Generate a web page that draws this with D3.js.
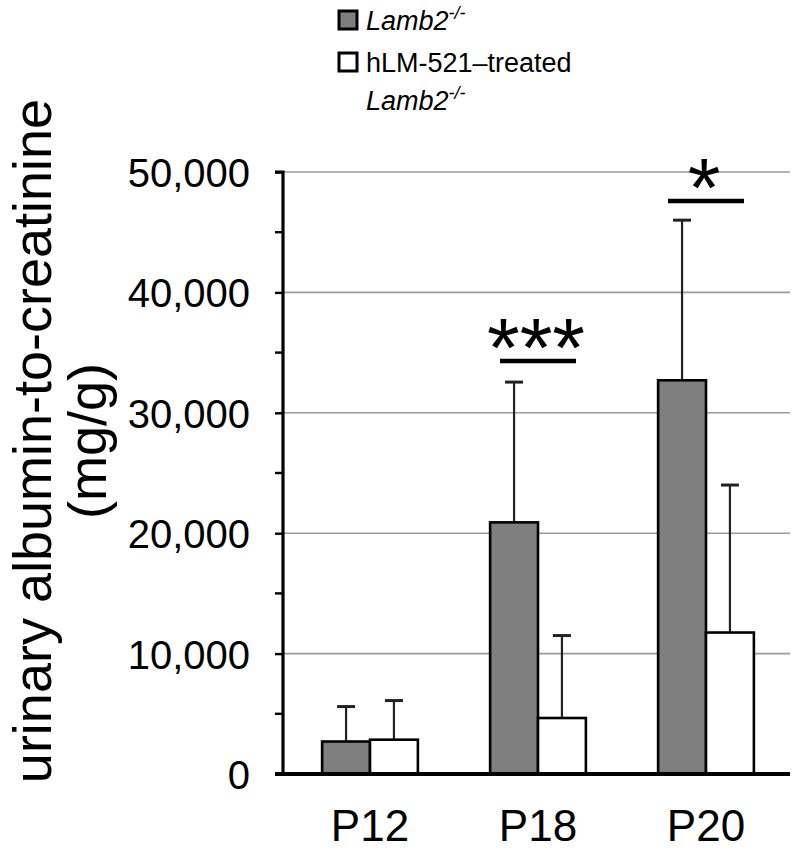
<!DOCTYPE html>
<html>
<head>
<meta charset="utf-8">
<script src="https://cdn.jsdelivr.net/npm/d3@7"></script>
<style>
  html, body { margin: 0; padding: 0; background: #fff; }
  svg { display: block; }
  text { font-family: "Liberation Sans", Arial, Helvetica, sans-serif; fill: #000; }
</style>
</head>
<body>
<svg id="chart" width="792" height="852"></svg>
<script>
// ---- data ----
const categories = ["P12", "P18", "P20"];
const seriesNames = ["Lamb2", "hLM-521\u2013treated"];
const lamb2Mean = [2700, 20900, 32700];
const lamb2Err = [2900, 11650, 13300];
const treatedMean = [2850, 4650, 11750];
const treatedErr = [3250, 6850, 12250];
const yTicks = [0, 10000, 20000, 30000, 40000, 50000];
const yMinorTicks = [5000, 15000, 25000, 35000, 45000];
const significance = [
  { category: "P18", label: "***", level: 34300 },
  { category: "P20", label: "*", level: 47600 }
];

// ---- layout ----
const svg = d3.select("#chart");
const axisX = 283;
const plotRight = 790;
const y = d3.scaleLinear().domain([0, 50000]).range([774, 172]);
const x = d3.scaleBand().domain(categories).range([286, 790]).paddingInner(0.43).paddingOuter(0.215);
const xs = d3.scaleBand().domain([0, 1]).range([0, x.bandwidth()]);

const rows = categories.map((c, i) => [
  { c, s: 0, mean: lamb2Mean[i], err: lamb2Err[i] },
  { c, s: 1, mean: treatedMean[i], err: treatedErr[i] }
]).flat();

// gridlines
svg.append("g").selectAll("line").data(yTicks.filter(d => d > 0)).join("line")
  .attr("x1", axisX).attr("x2", plotRight)
  .attr("y1", d => y(d)).attr("y2", d => y(d))
  .attr("stroke", "#9a9a9a").attr("stroke-width", 1.6);

// y axis
const yAxis = d3.axisLeft(y).tickValues(yTicks).tickSize(8).tickFormat(d3.format(","));
const gy = svg.append("g").attr("transform", `translate(${axisX},0)`).call(yAxis);
gy.select(".domain").attr("stroke", "#000").attr("stroke-width", 3.2).attr("d", `M-8,${y(50000)}H0V${y(0)}`);
gy.selectAll(".tick line").attr("stroke", "#000").attr("stroke-width", 2.4);
gy.selectAll(".tick text").attr("x", -33).attr("dy", "0.36em")
  .style("font-size", "40px").style("font-family", "'Liberation Sans', Arial, sans-serif").attr("fill", "#000");
gy.append("g").selectAll("line").data(yMinorTicks).join("line")
  .attr("x1", -8).attr("x2", 0).attr("y1", d => y(d)).attr("y2", d => y(d))
  .attr("stroke", "#000").attr("stroke-width", 2.4);

// error bars (upward only)
const eb = svg.append("g");
eb.selectAll("line.v").data(rows).join("line").attr("class", "v")
  .attr("x1", d => x(d.c) + xs(d.s) + xs.bandwidth() / 2)
  .attr("x2", d => x(d.c) + xs(d.s) + xs.bandwidth() / 2)
  .attr("y1", d => y(d.mean)).attr("y2", d => y(d.mean + d.err))
  .attr("stroke", "#222").attr("stroke-width", 2.2);
eb.selectAll("line.cap").data(rows).join("line").attr("class", "cap")
  .attr("x1", d => x(d.c) + xs(d.s) + xs.bandwidth() / 2 - 9)
  .attr("x2", d => x(d.c) + xs(d.s) + xs.bandwidth() / 2 + 9)
  .attr("y1", d => y(d.mean + d.err)).attr("y2", d => y(d.mean + d.err))
  .attr("stroke", "#222").attr("stroke-width", 3);

// bars
svg.append("g").selectAll("rect").data(rows).join("rect")
  .attr("x", d => x(d.c) + xs(d.s))
  .attr("width", xs.bandwidth())
  .attr("y", d => y(d.mean))
  .attr("height", d => y(0) - y(d.mean))
  .attr("fill", d => d.s === 0 ? "#7f7f7f" : "#ffffff")
  .attr("stroke", "#000").attr("stroke-width", 2.6);

// x axis baseline
svg.append("line").attr("x1", 275).attr("x2", plotRight).attr("y1", y(0)).attr("y2", y(0))
  .attr("stroke", "#000").attr("stroke-width", 4);

// x labels
svg.append("g").selectAll("text").data(categories).join("text")
  .attr("x", d => x(d) + x.bandwidth() / 2).attr("y", 841)
  .attr("text-anchor", "middle").style("font-size", "44px").text(d => d);

// significance
const sg = svg.append("g");
sg.selectAll("line").data(significance).join("line")
  .attr("x1", d => x(d.category) + x.bandwidth() / 2 - 38)
  .attr("x2", d => x(d.category) + x.bandwidth() / 2 + 38)
  .attr("y1", d => y(d.level)).attr("y2", d => y(d.level))
  .attr("stroke", "#000").attr("stroke-width", 4.5);
sg.selectAll("text").data(significance).join("text")
  .attr("x", d => x(d.category) + x.bandwidth() / 2 - 2)
  .attr("y", d => y(d.level) + 16)
  .attr("text-anchor", "middle")
  .style("font-size", "84px")
  .text(d => d.label);

// y title
const title = svg.append("text").attr("transform", "translate(51,441) rotate(-90)")
  .attr("text-anchor", "middle").style("font-size", "54px");
title.append("tspan").attr("x", 0).attr("dy", 0).text("urinary albumin-to-creatinine");
title.append("tspan").attr("x", 0).attr("dy", 55).text("(mg/g)");

// legend
const leg = svg.append("g");
const legendItems = [
  { fill: "#7f7f7f", lines: [{ italic: true, t: "Lamb2" }] },
  { fill: "#ffffff", lines: [{ italic: false, t: "hLM-521\u2013treated" }, { italic: true, t: "Lamb2" }] }
];
const legY = [11, 53];
legendItems.forEach((item, i) => {
  leg.append("rect").attr("x", 339).attr("y", legY[i]).attr("width", 18).attr("height", 18)
    .attr("fill", item.fill).attr("stroke", "#000").attr("stroke-width", 3);
  item.lines.forEach((ln, j) => {
    const t = leg.append("text").attr("x", 366).attr("y", legY[i] + 19 + j * 38)
      .style("font-size", "27px");
    const main = t.append("tspan").text(ln.t);
    if (ln.italic) {
      main.style("font-style", "italic");
      t.append("tspan").attr("dy", -11).style("font-size", "18px").style("font-style", "italic").text("-/-");
    }
  });
});
</script>
</body>
</html>
